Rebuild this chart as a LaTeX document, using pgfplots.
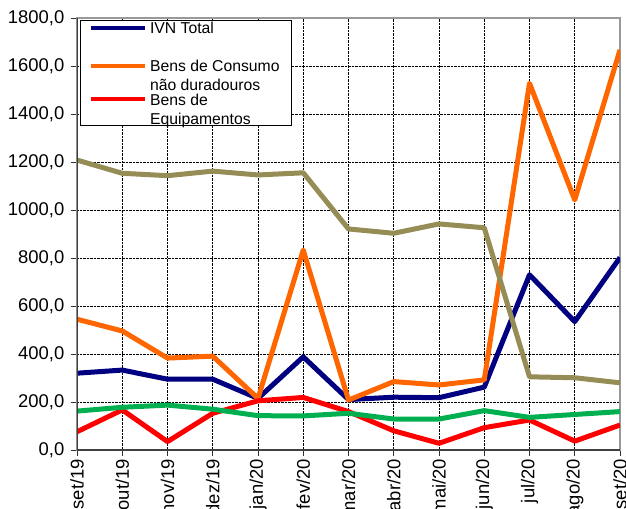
\documentclass[border=0pt]{standalone}
\usepackage{fontspec}
\setmainfont{Liberation Sans}
\usepackage{pgfplots}
\pgfplotsset{compat=1.18}
\definecolor{cnavy}{HTML}{000080}
\definecolor{corange}{HTML}{FF6600}
\definecolor{cred}{HTML}{FF0000}
\definecolor{colive}{HTML}{968C55}
\definecolor{cgreen}{HTML}{00B050}
\pgfplotsset{
  leglineA/.style={legend image code/.code={\draw[##1, line width=4bp] (0bp,11.5bp) -- (54bp,11.5bp);}},
  leglineB/.style={legend image code/.code={\draw[##1, line width=4bp] (0bp,9.5bp) -- (54bp,9.5bp);}},
}
\begin{document}
\begin{tikzpicture}
\path[use as bounding box] (-77bp,-59bp) rectangle (549bp,450bp);
\begin{axis}[
  at={(0,0)}, anchor=south west,
  scale only axis, width=543bp, height=432bp,
  xmin=0, xmax=12, ymin=0, ymax=1800,
  xtick={0,...,12},
  xticklabels={set/19,out/19,nov/19,dez/19,jan/20,fev/20,mar/20,abr/20,mai/20,jun/20,jul/20,ago/20,set/20},
  ytick={0,200,...,1800},
  grid=major,
  major grid style={densely dotted, black, line width=0.6pt},
  tick align=outside, tick pos=left, major tick length=5.5bp,
  tick style={black!80, line width=0.8pt},
  axis line style={draw=gray!80, line width=1.6pt},
  every tick label/.append style={font=\fontsize{18.5}{21}\selectfont},
  yticklabel style={font=\fontsize{18.5}{21}\selectfont, inner xsep=7bp},
  xticklabel style={font=\fontsize{18.5}{21}\selectfont, rotate=90, anchor=east},
  /pgf/number format/.cd, fixed, fixed zerofill, precision=1, use comma, 1000 sep={}, assume math mode=true,
  /pgfplots/.cd,
  legend style={at={(0.005,0.995)}, anchor=north west, draw=black, line width=0.8pt,
    font=\fontsize{15.8}{19}\selectfont, inner xsep=9bp, inner ysep=0bp, row sep=0pt,
    nodes={inner ysep=0pt, inner xsep=3bp}},
  legend cell align=left,
  every axis plot/.append style={line width=5bp, line join=round},
]
\addplot[cnavy, leglineA] coordinates {(0,320) (1,333) (2,295) (3,295) (4,215) (5,388) (6,210) (7,220) (8,218) (9,262) (10,730) (11,535) (12,802)};
\addlegendentry{\begin{tabular}[b]{@{}l@{}}IVN Total\\[4bp] \mbox{}\end{tabular}}
\addplot[corange, leglineB] coordinates {(0,545) (1,496) (2,383) (3,391) (4,215) (5,833) (6,208) (7,285) (8,271) (9,292) (10,1528) (11,1042) (12,1667)};
\addlegendentry{\begin{tabular}[b]{@{}l@{}}Bens de Consumo\\não duradouros\end{tabular}}
\addplot[cred, leglineB] coordinates {(0,76) (1,167) (2,35) (3,153) (4,205) (5,219) (6,160) (7,80) (8,28) (9,93) (10,125) (11,37) (12,104)};
\addlegendentry{\begin{tabular}[b]{@{}l@{}}Bens de\\Equipamentos\end{tabular}}
\addplot[cgreen] coordinates {(0,162) (1,178) (2,187) (3,170) (4,143) (5,142) (6,153) (7,129) (8,129) (9,164) (10,136) (11,148) (12,160)};
\addplot[colive] coordinates {(0,1208) (1,1153) (2,1143) (3,1162) (4,1146) (5,1155) (6,921) (7,903) (8,942) (9,926) (10,305) (11,301) (12,280)};
\draw[line width=1.6pt, black!75] (rel axis cs:0,1) -- (rel axis cs:0,0) -- (rel axis cs:1,0);
\end{axis}
\end{tikzpicture}
\end{document}
